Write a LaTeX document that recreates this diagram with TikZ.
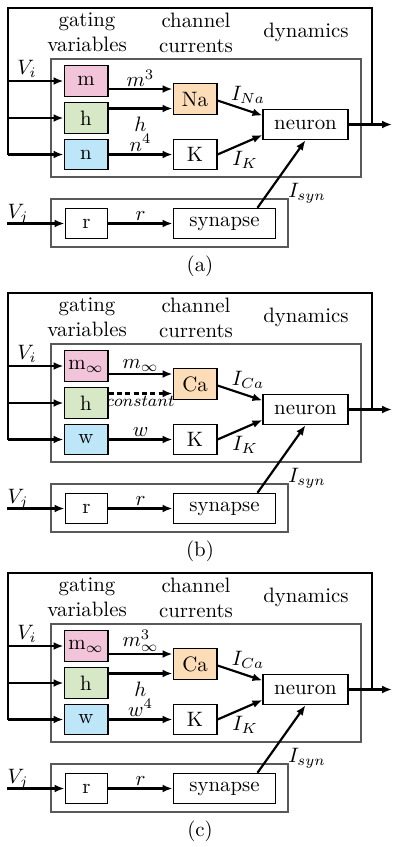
\documentclass[tikz,border=0pt]{standalone}
\usetikzlibrary{arrows.meta,calc}
\definecolor{pinkc}{HTML}{F2C4DA}
\definecolor{greenc}{HTML}{D6E8C6}
\definecolor{bluec}{HTML}{BDE6F8}
\definecolor{orangec}{HTML}{FCDDB8}
\tikzset{
  hdr/.style={align=center, inner sep=0pt},
  box/.style={draw, line width=0.5pt, inner sep=0pt, minimum width=21.1pt, minimum height=14.6pt},
  grp/.style={draw=black!65, line width=0.6pt},
  wire/.style={line width=1.05pt},
  arr/.style={line width=1.05pt, -{Latex[length=4.8pt,width=3.8pt]}},
}
\newcommand\drawpanel[8]{%
  \node[hdr] (#1hg) at (87,32.5) {gating\\variables};
  \node[hdr] (#1hc) at (196,32.5) {channel\\currents};
  \node[hdr] (#1hd) at (306,32) {dynamics};
  \draw[grp] (51,59) rectangle (361,177);
  \node[box, fill=pinkc] (#1m) at (86,81) {#2};
  \node[box, fill=greenc] (#1h) at (86,118) {h};
  \node[box, fill=bluec] (#1n) at (86,154.5) {#3};
  \node[box, fill=orangec] (#1c) at (195,99) {#4};
  \node[box] (#1k) at (195,154.5) {K};
  \node[box, minimum width=40.8pt] (#1neu) at (305.5,124.5) {neuron};
  \draw[grp] (51,199) rectangle (288,247);
  \node[box, minimum width=20.6pt] (#1r) at (86.5,223.5) {r};
  \node[box, minimum width=49.4pt] (#1syn) at (224.5,223.5) {synapse};
  \coordinate (#1tl) at (8,8);
  \coordinate (#1tr) at (372,8);
  \coordinate (#1j) at (372,124.5);
  \coordinate (#1out) at (392,124.5);
  \coordinate (#1vn) at (8,154.5);
  \coordinate (#1vj) at (7,223.5);
  \coordinate (#1p1) at ($(#1c.west)+(0,-10)$);
  \coordinate (#1p2) at ($(#1c.west)+(0,9.5)$);
  \coordinate (#1q1) at ($(#1neu.west)+(0,-9)$);
  \coordinate (#1q2) at ($(#1neu.west)+(0,10.5)$);
  \coordinate (#1s1) at ($(#1syn.north)+(33,0)$);
  \draw[arr] (#1neu.east) -- (#1out);
  \draw[wire] (#1j) -- (#1tr) -- (#1tl) -- (#1vn);
  \draw[arr] (#1vn) -- (#1n.west);
  \draw[arr] (#1m.west -| #1tl) -- (#1m.west);
  \draw[arr] (#1h.west -| #1tl) -- (#1h.west);
  \node (#1lvi) at (27,69) {$V_i$};
  \draw[arr] (#1m.east |- #1p1) -- node[above, inner sep=0.5pt] {$#5$} (#1p1);
  \draw[arr] (#1n.east) -- node[above, inner sep=1pt] {$#6$} (#1k.west);
  \draw[arr] ($(#1c.east)+(0,1.5)$) -- (#1q1);
  \draw[arr] (#1k.east) -- (#1q2);
  \draw[arr] (#1s1) -- (#1neu.south);
  \node (#1lic) at (248,95) {$I_{#7}$};
  \node (#1lik) at (245,160) {$I_K$};
  \node (#1lis) at (307,193) {$I_{syn}$};
  \draw[arr] (#1vj) -- (#1r.west);
  \node (#1lvj) at (18,214) {$V_j$};
  \draw[arr] (#1r.east) -- node[above, inner sep=1pt] {$r$} (#1syn.west);
  \node (#1cap) at (200,266) {(#8)};
}
\begin{document}
\begin{tikzpicture}[x=0.48pt, y=-0.48pt]
\useasboundingbox (0,0) rectangle (400,847);
\begin{scope}
  \drawpanel{a}{m}{n}{Na}{m^3}{n^4}{Na}{a}
  \draw[arr] (ah.east |- ap2) -- node[below] {$h$} (ap2);
\end{scope}
\begin{scope}[shift={(0,285)}]
  \drawpanel{b}{m$_\infty$}{w}{Ca}{m_\infty}{w}{Ca}{b}
  \draw[arr, dash pattern=on 2.4pt off 1.6pt] (bh.east |- bp2) -- node[below, inner sep=1pt] {\footnotesize $constant$} (bp2);
\end{scope}
\begin{scope}[shift={(0,565)}]
  \drawpanel{c}{m$_\infty$}{w}{Ca}{m_\infty^3}{w^4}{Ca}{c}
  \draw[arr] (ch.east |- cp2) -- node[below] {$h$} (cp2);
\end{scope}
\end{tikzpicture}
\end{document}
